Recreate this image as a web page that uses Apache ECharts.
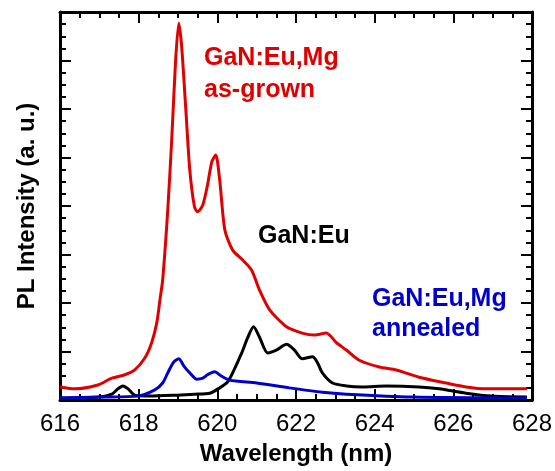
<!DOCTYPE html>
<html>
<head>
<meta charset="utf-8">
<script src="https://cdn.jsdelivr.net/npm/echarts@6/dist/echarts.min.js"></script>
<style>
  html, body { margin: 0; padding: 0; background: #fff; }
  #chart { width: 555px; height: 471px; }
</style>
</head>
<body>
<div id="chart"></div>
<script>
(function() {
    // PL spectra (wavelength nm, intensity a.u.)
    const asGrownX = [616.00, 616.38, 616.96, 617.32, 617.65, 617.90, 618.16, 618.33, 618.46, 618.54, 618.61, 618.74, 618.84, 618.94, 619.02, 619.09, 619.20, 619.30, 619.42, 619.50, 619.63, 619.75, 619.86, 619.96, 620.06, 620.19, 620.39, 620.64, 620.87, 621.07, 621.33, 621.76, 622.16, 622.47, 622.77, 623.03, 623.28, 623.61, 624.12, 624.55, 625.13, 625.82, 626.32, 626.83, 627.87];
    const asGrownY = [0.27, 0.23, 0.31, 0.45, 0.52, 0.62, 0.87, 1.18, 1.59, 2.06, 2.47, 3.92, 5.36, 7.01, 7.77, 7.32, 5.98, 4.74, 3.98, 3.88, 4.02, 4.43, 4.91, 5.05, 4.54, 3.51, 3.09, 2.89, 2.68, 2.27, 1.86, 1.51, 1.38, 1.34, 1.38, 1.18, 1.03, 0.82, 0.68, 0.62, 0.47, 0.35, 0.27, 0.23, 0.23];

    const euX = [616.00, 617.01, 617.32, 617.47, 617.60, 617.73, 617.90, 618.28, 618.97, 619.42, 619.81, 620.06, 620.26, 620.39, 620.62, 620.77, 620.92, 621.07, 621.28, 621.50, 621.76, 621.96, 622.16, 622.42, 622.54, 622.67, 622.93, 623.28, 623.69, 624.30, 625.13, 625.64, 626.32, 626.98, 627.87];
    const euY = [0.04, 0.06, 0.12, 0.23, 0.29, 0.23, 0.10, 0.08, 0.10, 0.12, 0.14, 0.25, 0.37, 0.56, 0.97, 1.28, 1.51, 1.30, 0.97, 1.03, 1.15, 1.03, 0.85, 0.89, 0.78, 0.56, 0.35, 0.29, 0.27, 0.29, 0.27, 0.23, 0.14, 0.08, 0.06];

    const annealedX = [616.00, 617.01, 617.98, 618.41, 618.61, 618.74, 618.89, 619.02, 619.15, 619.30, 619.48, 619.63, 619.75, 619.93, 620.11, 620.31, 621.00, 621.83, 622.67, 623.28, 624.95, 627.87];
    const annealedY = [0.04, 0.06, 0.08, 0.21, 0.35, 0.56, 0.78, 0.85, 0.70, 0.56, 0.43, 0.45, 0.52, 0.58, 0.49, 0.41, 0.35, 0.25, 0.16, 0.12, 0.06, 0.04];

    const xTicks = { min: 616, max: 628, step: 2 };
    const yTicks = { min: 0, max: 8, step: 1 };

    const font = '"Liberation Sans", Arial, sans-serif';

    function pairs(xs, ys) {
        return xs.map((x, i) => [x, ys[i]]);
    }

    const chart = echarts.init(document.getElementById('chart'));

    const frame = {
        axisLine: { show: true, onZero: false, lineStyle: { color: '#000', width: 3 } },
        axisTick: { show: true, inside: true, length: 11, lineStyle: { color: '#000', width: 2 } },
        minorTick: { show: true, splitNumber: 4, length: 6, lineStyle: { color: '#000', width: 2 } },
        splitLine: { show: false },
        minorSplitLine: { show: false }
    };

    function lineSerie(name, color, xs, ys) {
        return {
            name: name,
            type: 'line',
            data: pairs(xs, ys),
            showSymbol: false,
            smooth: 0.25,
            lineStyle: { color: color, width: 3 },
            animation: false
        };
    }

    let option = {
        animation: false,
        grid: { left: 60, right: 22, top: 12, bottom: 71 },
        xAxis: [
            Object.assign({
                type: 'value',
                position: 'bottom',
                min: xTicks.min, max: xTicks.max, interval: xTicks.step,
                name: 'Wavelength (nm)',
                nameLocation: 'middle',
                nameGap: 42,
                nameTextStyle: { fontFamily: font, fontWeight: 'bold', fontSize: 24, color: '#000' },
                axisLabel: { show: true, margin: 12, fontFamily: font, fontSize: 24, color: '#000' }
            }, frame),
            Object.assign({
                type: 'value',
                position: 'top',
                min: xTicks.min, max: xTicks.max, interval: xTicks.step,
                axisLabel: { show: false }
            }, frame)
        ],
        yAxis: [
            Object.assign({
                type: 'value',
                position: 'left',
                min: yTicks.min, max: yTicks.max, interval: yTicks.step,
                name: 'PL Intensity (a. u.)',
                nameLocation: 'middle',
                nameGap: 21,
                nameRotate: 90,
                nameTextStyle: { fontFamily: font, fontWeight: 'bold', fontSize: 24, color: '#000' },
                axisLabel: { show: false }
            }, frame),
            Object.assign({
                type: 'value',
                position: 'right',
                min: yTicks.min, max: yTicks.max, interval: yTicks.step,
                axisLabel: { show: false }
            }, frame)
        ],
        series: [
            lineSerie('GaN:Eu,Mg as-grown', '#e00000', asGrownX, asGrownY),
            lineSerie('GaN:Eu', '#000000', euX, euY),
            lineSerie('GaN:Eu,Mg annealed', '#0000cc', annealedX, annealedY)
        ],
        graphic: [
            { type: 'text', left: 204, top: 42, style: { text: 'GaN:Eu,Mg\nas-grown', fill: '#e00000', font: 'bold 25px ' + font, lineHeight: 32 } },
            { type: 'text', left: 258, top: 224, style: { text: 'GaN:Eu', fill: '#000', font: 'bold 25px ' + font } },
            { type: 'text', left: 372, top: 284, style: { text: 'GaN:Eu,Mg\nannealed', fill: '#0000cc', font: 'bold 25px ' + font, lineHeight: 30 } }
        ]
    };

    chart.setOption(option);
})();
</script>
</body>
</html>
